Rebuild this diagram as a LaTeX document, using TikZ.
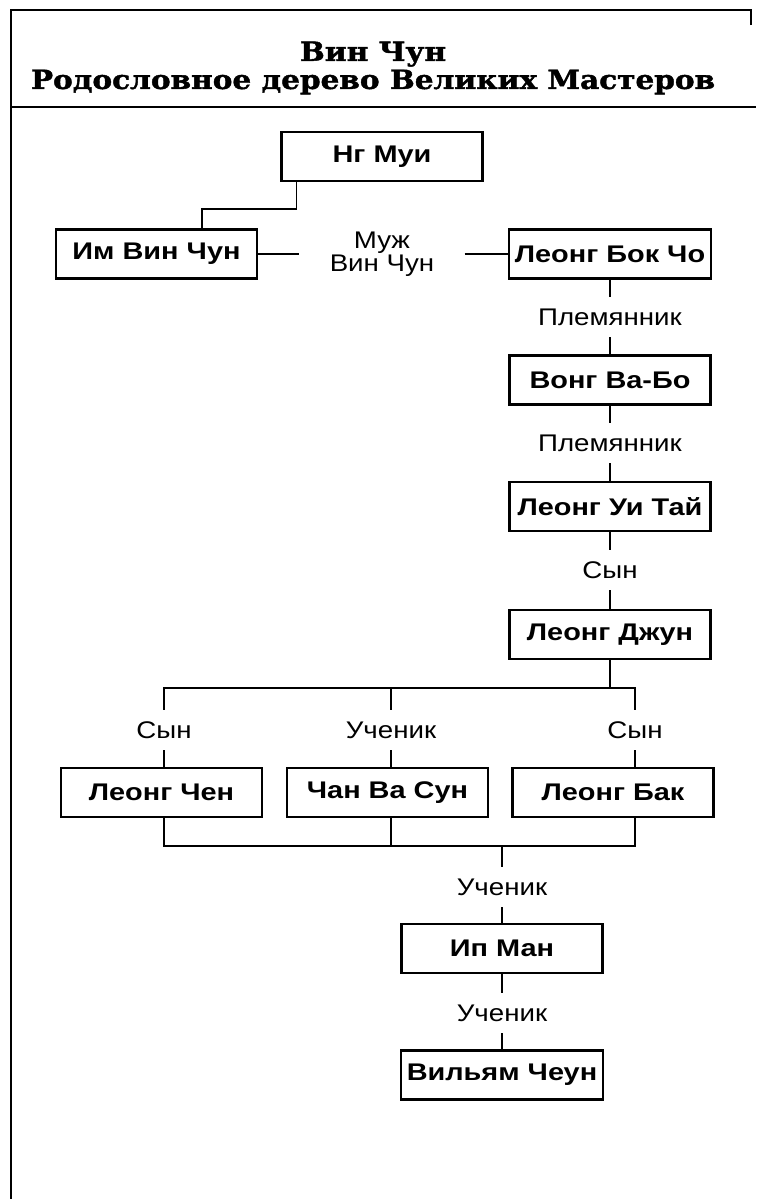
\documentclass[tikz,border=0pt]{standalone}
\usepackage{fontspec}
\setmainfont{Liberation Sans}
\newfontfamily\namefont{Liberation Sans}[FakeStretch=1.2]
\newfontfamily\relfont{Liberation Sans}[FakeStretch=1.15]
\newfontfamily\titlefont{DejaVu Serif}[FakeStretch=1.12, BoldFeatures={FakeBold=1.6}]
\usepackage{tikz}
\usetikzlibrary{positioning}

\begin{document}
\begin{tikzpicture}[
            box/.style={draw, rectangle, line width=1.2pt, minimum height=0.98cm, minimum width=4.02cm, align=center, fill=white, font=\namefont\bfseries\fontsize{13.7}{16}\selectfont},
            rel/.style={inner xsep=2pt, inner ysep=0.23cm, text height=0.34cm, text depth=0pt, font=\relfont\fontsize{13.7}{15}\selectfont},
            line/.style={line width=1pt}
        ]
            \useasboundingbox (0,0) rectangle (15.12,-23.98);

            % --- FRAME AND TITLE ---
            \draw[line width=1.4pt] (15.02,-0.5) -- (15.02,-0.2) -- (0.22,-0.2) -- (0.22,-23.98);
            \draw[line width=1.4pt] (0.22,-2.14) -- (15.12,-2.14);
            \node[align=center, font=\titlefont\bfseries\fontsize{15}{16}\selectfont] (title) at (7.46,-1.36) {Вин Чун\\Родословное дерево Великих Мастеров};

            % --- FIRST GENERATIONS ---
            \node[box] (ngmui) at (7.64,-3.13) {Нг Муи};
            \node[box] (imwc) at (3.13,-5.08) {Им Вин Чун};
            \node[box] (leongbc) at (12.20,-5.08) {Леонг Бок Чо};
            \node[rel, inner xsep=0.6cm, align=center, text height=, text depth=, font=\relfont\fontsize{13.7}{13}\selectfont] (spouse) at (7.64,-5.08) {Муж\\Вин Чун};

            \draw[line] ([xshift=0.32cm]ngmui.south west) -- ++(0,-0.54) -| ([xshift=0.91cm]imwc.north);
            \draw[line] (imwc) -- (spouse) -- (leongbc);

            % --- MAIN LINE ---
            \node[rel] (nephew1) at (12.20,-6.34) {Племянник};
            \node[box] (wongwb) at (12.20,-7.60) {Вонг Ва-Бо};
            \node[rel] (nephew2) at (12.20,-8.86) {Племянник};
            \node[box] (leongyt) at (12.20,-10.13) {Леонг Уи Тай};
            \node[rel] (son1) at (12.20,-11.40) {Сын};
            \node[box] (leongjun) at (12.20,-12.69) {Леонг Джун};

            \draw[line] (leongbc) -- (nephew1) -- (wongwb) -- (nephew2) -- (leongyt) -- (son1) -- (leongjun);

            % --- THREE BRANCHES ---
            \node[rel] (son2) at (3.28,-14.60) {Сын};
            \node[rel] (pupil1) at (7.82,-14.60) {Ученик};
            \node[rel] (son3) at (12.70,-14.60) {Сын};
            \node[box] (leongchen) at (3.23,-15.85) {Леонг Чен};
            \node[box] (chanws) at (7.75,-15.85) {Чан Ва Сун};
            \node[box] (leongbak) at (12.26,-15.85) {Леонг Бак};

            \coordinate (fork) at (12.20,-13.76);
            \draw[line] (leongjun) -- (fork);
            \draw[line] (son2.north) |- (fork) -| (son3.north);
            \draw[line] (pupil1) -- (pupil1 |- fork);
            \draw[line] (son2) -- (son2 |- leongchen.north);
            \draw[line] (pupil1) -- (pupil1 |- chanws.north);
            \draw[line] (son3) -- (son3 |- leongbak.north);

            % --- LOWER LINE ---
            \node[rel] (pupil2) at (10.04,-17.74) {Ученик};
            \node[box] (ipman) at (10.04,-18.97) {Ип Ман};
            \node[rel] (pupil3) at (10.04,-20.26) {Ученик};
            \node[box] (william) at (10.04,-21.50) {Вильям Чеун};

            \coordinate (join) at (10.04,-16.92);
            \draw[line] (leongchen.south -| son2) |- (join) -| (leongbak.south -| son3);
            \draw[line] (chanws.south -| pupil1) -- (pupil1 |- join);
            \draw[line] (join) -- (pupil2) -- (ipman) -- (pupil3) -- (william);

        \end{tikzpicture}
\end{document}
